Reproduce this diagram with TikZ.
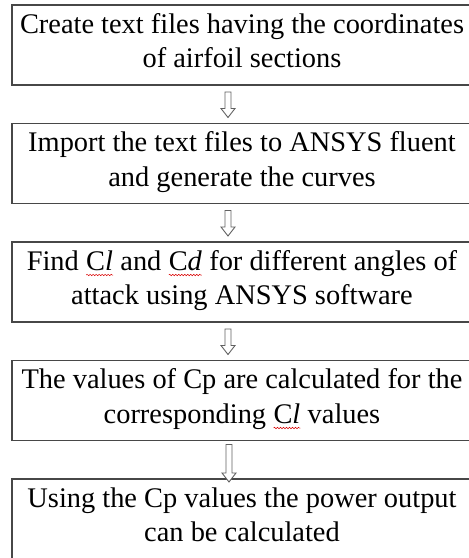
\documentclass[tikz,border=0pt]{standalone}
\usepackage{fontspec}
\setmainfont{Liberation Serif}
\usetikzlibrary{calc,decorations.pathmorphing}
\tikzset{
  stepbox/.style={draw=black!72, line width=1.3pt, minimum width=460pt, minimum height=80pt, inner sep=0pt, outer sep=0pt, anchor=north},
  hollowarrow/.style={draw=black!62, line width=0.9pt, fill=white, line join=miter},
  wavy/.style={draw=red!85!black, line width=0.5pt, decorate, decoration={snake, amplitude=0.7pt, segment length=3pt}}
}
\newcommand\boxtext[2]{\parbox[c][80pt][t]{460pt}{\centering\fontsize{28.4pt}{34.5pt}\selectfont\rule{0pt}{28pt}#1\\#2}}
\newcommand\squig[1]{\tikz[baseline=(sq.base)]{\node[draw=none,fill=none,inner sep=0pt,outer sep=0pt,minimum width=0pt,minimum height=0pt,anchor=base,line width=0.4pt] (sq) {#1};\draw[wavy] ([yshift=-5pt]sq.base west) -- ([yshift=-5pt]sq.base east);}}
\newcommand\hollowdown[2]{\draw[hollowarrow] let \p1=(#1), \p2=(#2) in
  (\x1-3pt,\y1) -- (\x1+3pt,\y1) -- (\x1+3pt,\y2+9pt) -- (\x1+7pt,\y2+9pt) -- (\x1,\y2) -- (\x1-7pt,\y2+9pt) -- (\x1-3pt,\y2+9pt) -- cycle;}
\begin{document}
\begin{tikzpicture}[x=1pt,y=1pt]
\useasboundingbox (0,0) rectangle (469,-558);
\node[stepbox] (b1) at (242,-5) {\boxtext{Create text files having the coordinates}{of airfoil sections}};
\node[stepbox] (b2) at (242,-123.5) {\boxtext{Import the text files to ANSYS fluent}{and generate the curves}};
\node[stepbox] (b3) at (242,-242) {\boxtext{Find \squig{C\textit{l}} and \squig{C\textit{d}} for different angles of}{attack using ANSYS software}};
\node[stepbox] (b4) at (242,-360.5) {\boxtext{The values of Cp are calculated for the}{corresponding \squig{C\textit{l}} values}};
\node[stepbox] (b5) at (242,-479) {\boxtext{Using the Cp values the power output}{can be calculated}};
\coordinate (a1s) at ($(b1.south)+(-14,-7)$);
\coordinate (a1e) at ($(b2.north)+(-14,6)$);
\coordinate (a2s) at ($(b2.south)+(-14,-7)$);
\coordinate (a2e) at ($(b3.north)+(-14,6)$);
\coordinate (a3s) at ($(b3.south)+(-14,-7)$);
\coordinate (a3e) at ($(b4.north)+(-14,6)$);
\coordinate (a4s) at ($(b4.south)+(-13,-4)$);
\coordinate (a4e) at ($(b5.north)+(-13,-3)$);
\hollowdown{a1s}{a1e}
\hollowdown{a2s}{a2e}
\hollowdown{a3s}{a3e}
\hollowdown{a4s}{a4e}
\end{tikzpicture}
\end{document}
